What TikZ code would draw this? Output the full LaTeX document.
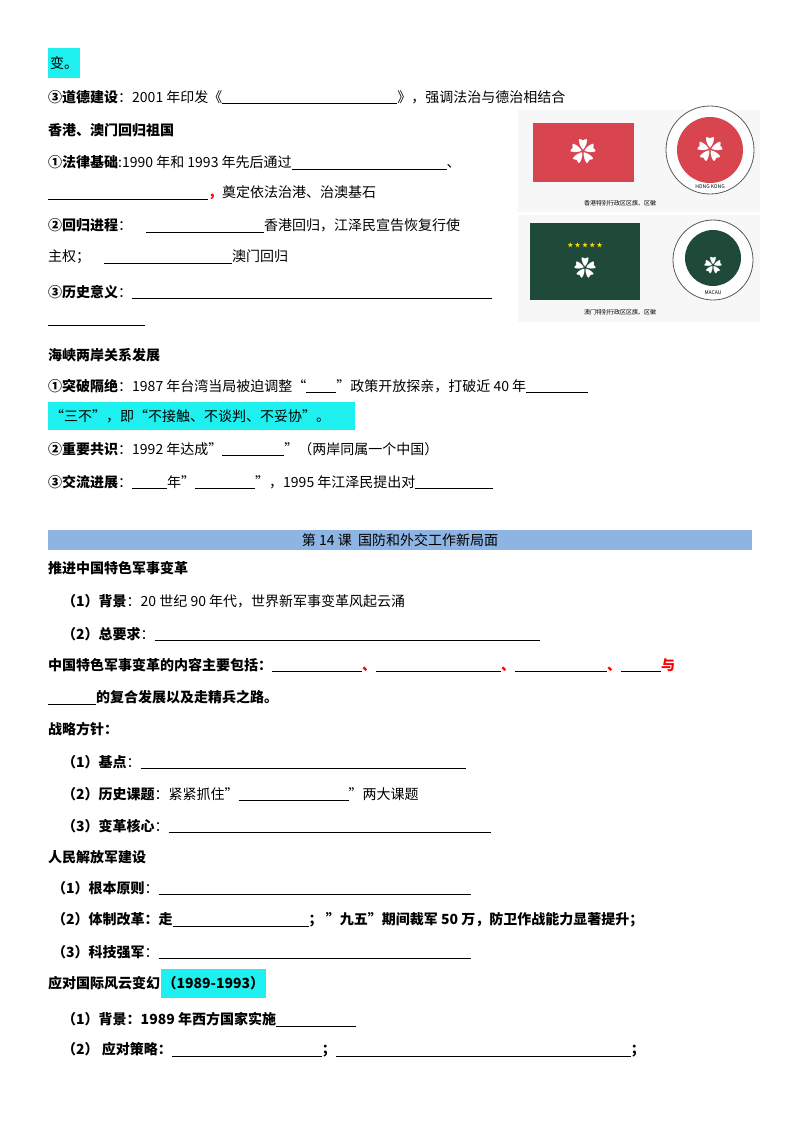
\documentclass[tikz,border=0pt]{standalone}
\usepackage{fontspec}
\setmainfont{Noto Sans CJK SC}
\newcommand{\bl}[1]{\rule[-2pt]{#1pt}{0.6pt}}
\definecolor{hk}{HTML}{D9454F}
\definecolor{mo}{HTML}{1F4A3A}
\definecolor{hdr}{HTML}{8EB4E3}
\definecolor{hl}{HTML}{1EF0F0}
\begin{document}
\begin{tikzpicture}[x=1pt,y=-1pt,
  t/.style={anchor=west,inner sep=0pt,font=\fontsize{14}{16}\selectfont},
  b/.style={t,font=\fontsize{14}{16}\selectfont\bfseries}]
\useasboundingbox (0,0) rectangle (800,1132);
\fill[hl] (48,48) rectangle (80,78);
\node[t] (l1) at (50,63) {变。};
\node[t] (l2) at (48,97) {\textbf{③道德建设}：2001 年印发《\bl{175}》，强调法治与德治相结合};
\node[b] (l3) at (48,130) {香港、澳门回归祖国};
\node[t] (l4) at (48,163) {\textbf{①法律基础}:1990 年和 1993 年先后通过\bl{155}、};
\node[t] (l5) at (48,193) {\bl{160}\textcolor{red}{\textbf{，}}奠定依法治港、治澳基石};
\node[t] (l6) at (48,226) {\textbf{②回归进程}：\quad\bl{118}香港回归，江泽民宣告恢复行使};
\node[t] (l7) at (48,257) {主权；\quad\bl{128}澳门回归};
\node[t] (l8) at (48,292) {\textbf{③历史意义}：\bl{360}};
\node[t] (l9) at (48,325) {\bl{97}};
\node[b] (l10) at (48,355) {海峡两岸关系发展};
\node[t] (l11) at (48,386) {\textbf{①突破隔绝}：1987 年台湾当局被迫调整“\bl{30}”政策开放探亲，打破近 40 年\bl{62}};
\fill[hl] (48,402) rectangle (355,430);
\node[t] (l12) at (50,416) {“三不”，即“不接触、不谈判、不妥协”。};
\node[t] (l13) at (48,449) {\textbf{②重要共识}：1992 年达成"\bl{62}"（两岸同属一个中国）};
\node[t] (l14) at (48,482) {\textbf{③交流进展}：\bl{35}年"\bl{60}"，1995 年江泽民提出对\bl{78}};
\fill[hdr] (48,530) rectangle (752,550);
\node[t] (hd) at (400,540) [anchor=center] {第 14 课\ \ 国防和外交工作新局面};
\node[b] (m1) at (48,568) {推进中国特色军事变革};
\node[t] (m2) at (62,601) {\textbf{（1）背景}：20 世纪 90 年代，世界新军事变革风起云涌};
\node[t] (m3) at (62,634) {\textbf{（2）总要求}：\bl{385}};
\node[b] (m4) at (48,665) {中国特色军事变革的内容主要包括：\bl{90}\textcolor{red}{、}\bl{125}\textcolor{red}{、}\bl{92}\textcolor{red}{、}\bl{40}\textcolor{red}{与}};
\node[b] (m5) at (48,697) {\bl{48}的复合发展以及走精兵之路。};
\node[b] (m6) at (48,729) {战略方针：};
\node[t] (m7) at (62,762) {\textbf{（1）基点}：\bl{325}};
\node[t] (m8) at (62,794) {\textbf{（2）历史课题}：紧紧抓住"\bl{110}"两大课题};
\node[t] (m9) at (62,826) {\textbf{（3）变革核心}：\bl{322}};
\node[b] (m10) at (48,857) {人民解放军建设};
\node[t] (m11) at (52,888) {\textbf{（1）根本原则}：\bl{312}};
\node[b] (m12) at (52,920) {（2）体制改革：走\bl{136}；\ "九五"期间裁军 50 万，防卫作战能力显著提升；};
\node[t] (m13) at (52,952) {\textbf{（3）科技强军}：\bl{312}};
\node[b] (m14) at (48,983) {应对国际风云变幻};
\node[b,fill=hl,inner xsep=2pt,minimum height=29pt] (m14b) at (m14.east) {（1989-1993）};
\node[b] (m15) at (62,1019) {（1）背景：1989 年西方国家实施\bl{80}};
\node[b] (m16) at (62,1050) {（2）\ 应对策略：\bl{150}；\bl{295}；};
% images
\fill[gray!6] (518,110) rectangle (760,212);
\fill[gray!6] (518,215) rectangle (760,322);
\fill[hk] (533,123) rectangle (634,182);
\node[text=white,font=\fontsize{26}{26}\selectfont] (hf) at (583,152) {✿};
\draw[gray!70!black,line width=0.8pt,fill=white] (710,150) circle (44);
\fill[hk] (710,150) circle (33);
\node[text=white,font=\fontsize{26}{26}\selectfont] (he) at (710,150) {✿};
\node[font=\fontsize{5}{5}\selectfont] (hkt) at (710,187) {HONG KONG};
\node[font=\fontsize{6}{6}\selectfont] (hc) at (620,203) {香港特别行政区区旗、区徽};
\fill[mo] (530,223) rectangle (640,300);
\node[text=white,font=\fontsize{22}{22}\selectfont] (mf) at (585,268) {✿};
\node[text=yellow!80!orange,font=\fontsize{6}{6}\selectfont] (ms) at (585,245) {★ ★ ★ ★ ★};
\draw[gray!70!black,line width=0.8pt,fill=white] (713,260) circle (40);
\fill[mo] (713,258) circle (28);
\node[text=white,font=\fontsize{18}{18}\selectfont] (me) at (713,266) {✿};
\node[font=\fontsize{5}{5}\selectfont] (mt) at (713,293) {MACAU};
\node[font=\fontsize{6}{6}\selectfont] (mc) at (620,312) {澳门特别行政区区旗、区徽};
\end{tikzpicture}
\end{document}
